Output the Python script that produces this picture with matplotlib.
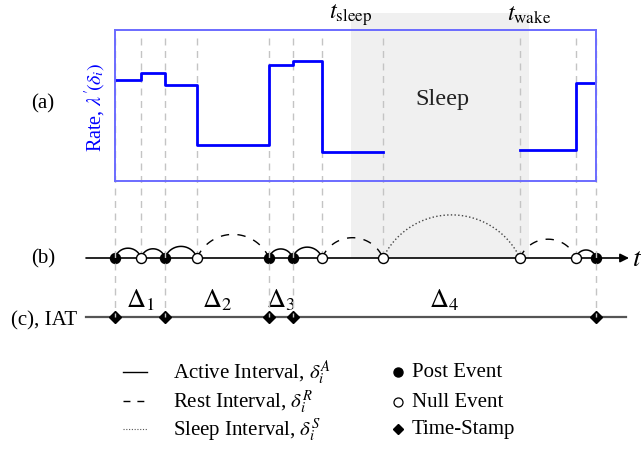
import numpy as np
import matplotlib.pyplot as plt

plt.rcParams["font.family"] = "serif"
plt.rcParams["font.serif"] = ["Liberation Serif", "DejaVu Serif"]
plt.rcParams["mathtext.fontset"] = "stix"

# event times (arbitrary time units, first event at 0)
event_times = [0, 26, 50, 82, 154, 177.5, 207, 268, 405, 461, 481]
event_kinds = ["post", "null", "post", "null", "post", "post",
               "null", "null", "null", "null", "post"]
# kind of interval between consecutive events: A active, R rest, S sleep
interval_kinds = ["A", "A", "A", "R", "A", "A", "R", "S", "R", "A"]

# piecewise-constant rate, awake before and after sleep
rate_t_before = [0, 26, 50, 82, 154, 177.5, 207, 268]
rate_before = [0.67, 0.715, 0.635, 0.24, 0.765, 0.795, 0.19, 0.19]
rate_t_after = [405, 461, 481]
rate_after = [0.207, 0.652, 0.652]

t_sleep, t_wake = 236, 414
iat_labels = [r"$\Delta_1$", r"$\Delta_2$", r"$\Delta_3$", r"$\Delta_4$"]

# layout (pixels)
W, H = 641, 460
x0 = 115                 # x of time 0
box_top, box_bot = 31, 182
y_line, y_iat = 259, 318
fs = 15

fig = plt.figure(figsize=(W / 100, H / 100), dpi=100)
ax = fig.add_axes([0, 0, 1, 1])
ax.set_xlim(0, W)
ax.set_ylim(H, 0)
ax.axis("off")

span = event_times[-1] - event_times[0]
axr = fig.add_axes([x0 / W, 1 - box_bot / H, span / W, (box_bot - box_top) / H])
axr.set_facecolor("none")
axr.set_xlim(0, span)
axr.set_ylim(0, 1)
axr.set_xticks([])
axr.set_yticks([])
for s in axr.spines.values():
    s.set_color("#6b6bff")
    s.set_linewidth(1.4)
axr.step(rate_t_before, rate_before, where="post", color="#0000ff", lw=2)
axr.step(rate_t_after, rate_after, where="post", color="#0000ff", lw=2)

# sleep shading
ax.axvspan(x0 + t_sleep, x0 + t_wake, ymin=1 - y_line / H, ymax=1 - 14 / H,
           color="#f0f0f0", zorder=0, lw=0)
ax.text(x0 + t_sleep, 15, r"$t_{\mathrm{sleep}}$", ha="center", va="center", fontsize=17.5)
ax.text(x0 + t_wake, 15, r"$t_{\mathrm{wake}}$", ha="center", va="center", fontsize=17.5)
ax.text(x0 + (t_sleep + t_wake) / 2 + 2, 99, "Sleep", ha="center", va="center",
        fontsize=17.5, color="#222222")

# vertical guide lines
for t, k in zip(event_times, event_kinds):
    y_end = y_iat if k == "post" else y_line - 5
    ax.plot([x0 + t, x0 + t], [box_top + 8, y_end], color="#c4c4c4", lw=1,
            dashes=(5, 4), zorder=1 if k == "null" else 6)

# time line and IAT line
ax.annotate("", xy=(629, y_line), xytext=(86, y_line),
            arrowprops=dict(arrowstyle="-|>", color="black", lw=1.2,
                            mutation_scale=13, shrinkA=0, shrinkB=0), zorder=2)
ax.text(632, y_line + 1, r"$t$", ha="left", va="center", fontsize=20)
ax.plot([86, 626], [y_iat, y_iat], color="#555555", lw=1.6, zorder=2)

# arcs between events
styles = {"A": dict(ls="-", lw=1.1), "R": dict(dashes=(6, 6), lw=1.0),
          "S": dict(ls=":", lw=1.0, color="#444444")}
for i, kind in enumerate(interval_kinds):
    xa, xb = x0 + event_times[i], x0 + event_times[i + 1]
    w = xb - xa
    h = 0.3 * w + 2
    R = (w ** 2 / 4 + h ** 2) / (2 * h)
    half = np.arcsin((w / 2) / R)
    ang = np.linspace(-half, half, 80)
    xs = (xa + xb) / 2 + R * np.sin(ang)
    ys = y_line - (R * np.cos(ang) - (R - h))
    st = dict(color="black")
    st.update(styles[kind])
    ax.plot(xs, ys, zorder=3, **st)

# event markers
for t, k in zip(event_times, event_kinds):
    fc = "black" if k == "post" else "white"
    ax.plot(x0 + t, y_line, "o", ms=7.2, mfc=fc, mec="black", mew=1, zorder=5)
    if k == "post":
        ax.plot(x0 + t, y_iat, "D", ms=6, color="black", zorder=5)

post_t = [t for t, k in zip(event_times, event_kinds) if k == "post"]
for lab, ta, tb in zip(iat_labels, post_t[:-1], post_t[1:]):
    ax.text(x0 + (ta + tb) / 2, 300, lab, ha="center", va="center", fontsize=19)

# row labels
ax.text(43, 104, "(a)", ha="center", va="center", fontsize=fs)
ax.text(43, y_line, "(b)", ha="center", va="center", fontsize=fs)
ax.text(44, 321, "(c), IAT", ha="center", va="center", fontsize=fs)
ax.text(95, 107, r"Rate, $\lambda'\!(\delta_i)$", ha="center", va="center",
        rotation=90, fontsize=14.5, color="#0000ff")

# legend
leg_y = [373, 402, 430]
ax.plot([123, 147], [leg_y[0]] * 2, color="black", lw=1)
ax.plot([123, 147], [leg_y[1]] * 2, color="black", lw=1, dashes=(5, 5))
ax.plot([123, 147], [leg_y[2]] * 2, color="#555555", lw=0.8, ls=(0, (1, 1.5)))
labels_l = [r"Active Interval, $\delta_i^A$", r"Rest Interval, $\delta_i^R$",
            r"Sleep Interval, $\delta_i^S$"]
for y, lab in zip(leg_y, labels_l):
    ax.text(173, y, lab, ha="left", va="center", fontsize=fs)
ax.plot(398, leg_y[0], "o", ms=6.5, color="black")
ax.plot(398, leg_y[1] + 1, "o", ms=6.5, mfc="white", mec="black", mew=0.9)
ax.plot(398, leg_y[2], "D", ms=5, color="black")
for y, lab in zip([373, 403, 430], ["Post Event", "Null Event", "Time-Stamp"]):
    ax.text(412, y, lab, ha="left", va="center", fontsize=fs)

fig.savefig("out.png", dpi=100)
